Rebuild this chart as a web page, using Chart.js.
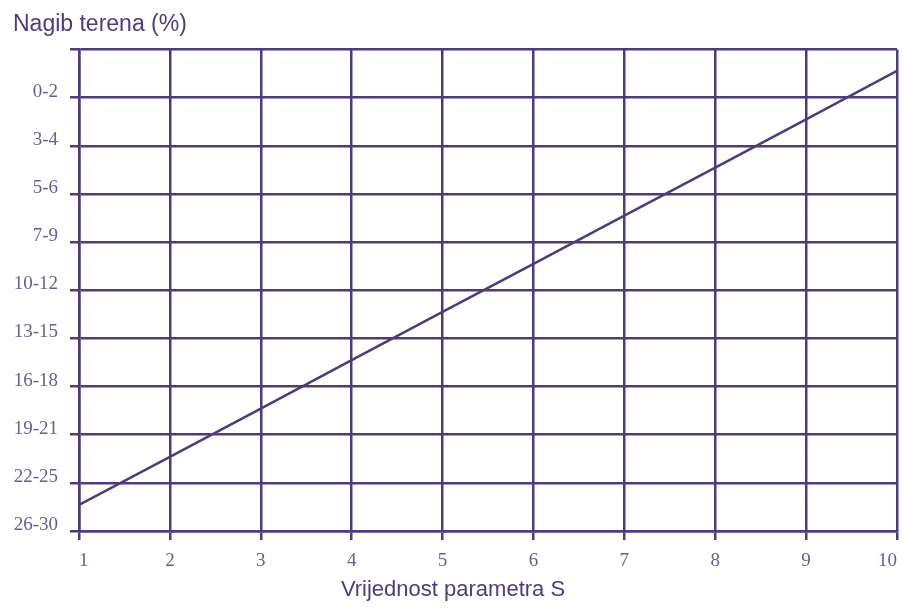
<!DOCTYPE html>
<html lang="hr">
<head>
<meta charset="UTF-8">
<title>Nagib terena</title>
<script src="https://cdn.jsdelivr.net/npm/chart.js@4.4.0/dist/chart.umd.min.js"></script>
<style>
  html, body { margin: 0; padding: 0; background: #fff; }
  #wrap { width: 904px; height: 610px; }
</style>
</head>
<body>
<div id="wrap"><canvas id="nagibChart" width="904" height="610"></canvas></div>
<script>
// data
var sValues = [1, 2, 3, 4, 5, 6, 7, 8, 9, 10];
var slopeLevel = [9.46, 8.46, 7.46, 6.45, 5.45, 4.45, 3.45, 2.45, 1.45, 0.44];
var slopeLabels = ['', '0-2', '3-4', '5-6', '7-9', '10-12', '13-15', '16-18', '19-21', '22-25', '26-30'];

var purple = '#4f3a80';
var tickText = '#6b5a94';
var sansNarrow = "'Liberation Sans Narrow', 'Liberation Sans', Arial, sans-serif";
var serif = "'Liberation Serif', 'DejaVu Serif', serif";

// x axis title drawn slightly left of centre, like the original
var xTitlePlugin = {
  id: 'xTitle',
  afterDraw: function (chart) {
    var c = chart.ctx, a = chart.chartArea;
    c.save();
    c.fillStyle = purple;
    c.font = '22px ' + sansNarrow;
    c.textAlign = 'center';
    c.textBaseline = 'middle';
    c.fillText('Vrijednost parametra S', (a.left + a.right) / 2 - 35, 590);
    c.restore();
  }
};

var ctx = document.getElementById('nagibChart').getContext('2d');
new Chart(ctx, {
  type: 'line',
  data: {
    datasets: [{
      data: sValues.map(function (s, i) { return { x: s, y: slopeLevel[i] }; }),
      borderColor: purple,
      borderWidth: 2.5,
      pointRadius: 0,
      tension: 0
    }]
  },
  options: {
    responsive: false,
    animation: false,
    layout: { padding: { left: 13, right: 7, top: 0, bottom: 0 } },
    plugins: {
      legend: { display: false },
      tooltip: { enabled: false },
      title: {
        display: true,
        text: 'Nagib terena (%)',
        align: 'start',
        color: purple,
        font: { family: sansNarrow, size: 23, weight: 'normal', lineHeight: 1.2 },
        padding: { top: 11, bottom: 11 }
      }
    },
    scales: {
      x: {
        type: 'linear',
        min: 1,
        max: 10,
        afterFit: function (s) { s.height = 79; s.paddingLeft = 0; s.paddingRight = 0; },
        ticks: {
          stepSize: 1,
          color: tickText,
          padding: 10,
          align: 'inner',
          maxRotation: 0,
          font: { family: serif, size: 19 }
        },
        grid: { color: purple, lineWidth: 2.5, tickLength: 9, tickColor: purple },
        border: { color: purple, width: 2.5 }
      },
      y: {
        type: 'linear',
        reverse: true,
        min: 0,
        max: 10,
        afterFit: function (s) { s.width = 66; s.paddingTop = 0; s.paddingBottom = 0; },
        ticks: {
          stepSize: 1,
          color: tickText,
          padding: 12,
          labelOffset: -6,
          font: { family: serif, size: 19 },
          callback: function (v) { return slopeLabels[v]; }
        },
        grid: { color: purple, lineWidth: 2.5, tickLength: 9, tickColor: purple },
        border: { color: purple, width: 2.5 }
      }
    }
  },
  plugins: [xTitlePlugin]
});
</script>
</body>
</html>
